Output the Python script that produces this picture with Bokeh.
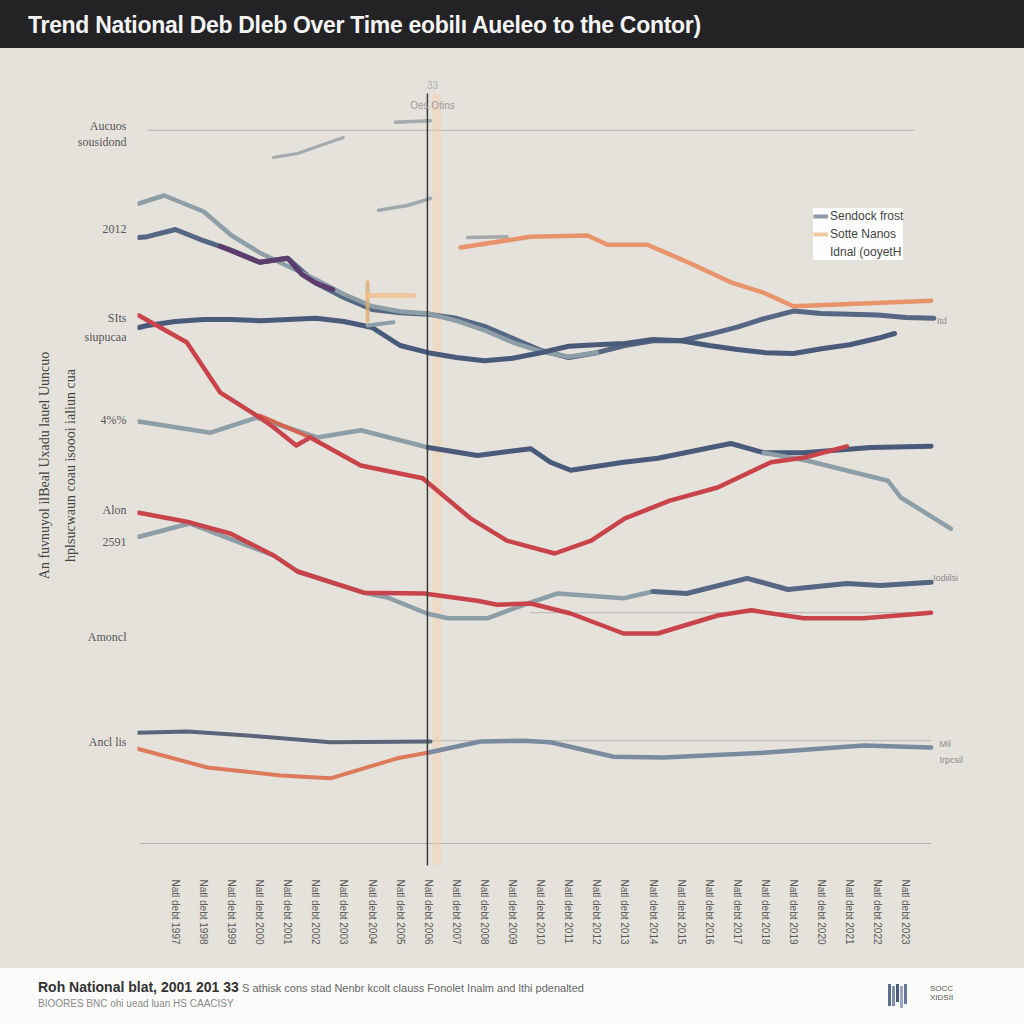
from bokeh.plotting import figure
from bokeh.models import (FixedTicker, Div, Legend, LegendItem, Label, Range1d)
from bokeh.layouts import column
from bokeh.embed import file_html
from bokeh.resources import INLINE

# ---------------- data ----------------
TITLE = "Trend National Deb Dleb Over Time eobilı Aueleo to the Contor)"
YEARS = list(range(1997, 2024))
X_TICKS = list(range(len(YEARS)))
X_LABELS = [f"Natl debt {y}" for y in YEARS]

Y_TICKS = [92.5, 90.4, 79.6, 68.4, 66.1, 55.75, 44.4, 40.5, 28.6, 15.5]
Y_LABELS = ["Aucuos", "sousidond", "2012", "SIts", "siupucaa", "4%%", "Alon", "2591", "Amoncl", "Ancl lis"]
Y_TITLE = "An fuvnuyol ilBeal Uxadu lauel Uuncuo\nhplsucwaun coau isoooi ialiun cua"

NAVY1_X = [-1.3, -1, 0, 1, 2, 3, 4, 5, 6, 7, 8, 9, 10, 11, 12, 13, 14, 15, 16, 17, 18, 19, 20, 21, 22, 23, 24, 25, 26, 27]
NAVY1_Y = [78.5, 78.6, 79.5, 78.1, 76.9, 75.4, 75.9, 72.8, 71.0, 69.5, 69.1, 68.9, 68.4, 67.4, 65.9, 64.4, 63.5, 64.1, 65.0, 65.6, 65.6, 66.4, 67.3, 68.4, 69.3, 69.0, 68.9, 68.8, 68.5, 68.4]

GRAY1_X = [-1.3, -0.4, 1, 2, 3, 4, 5, 6, 7, 8, 9, 10, 11, 12, 13, 14, 15]
GRAY1_Y = [82.75, 83.75, 81.75, 78.75, 76.6, 74.9, 73.25, 71.4, 69.9, 69.25, 69.0, 68.1, 66.9, 65.4, 64.25, 63.6, 64.1]

PURPLE_X = [1.6, 3.0, 4.0, 4.5, 5.0, 5.6]
PURPLE_Y = [77.4, 75.4, 75.9, 73.9, 72.8, 72.0]

NAVY2_X = [-1.3, -1, 0, 1, 2, 3, 4, 5, 6, 7, 8, 9, 10, 11, 12, 13, 14, 15, 16, 17, 18, 19, 20, 21, 22, 23, 24, 25, 25.6]
NAVY2_Y = [67.25, 67.5, 68.0, 68.25, 68.25, 68.1, 68.25, 68.4, 68.0, 67.25, 65.0, 64.1, 63.5, 63.1, 63.4, 64.1, 64.9, 65.1, 65.25, 65.75, 65.6, 65.0, 64.5, 64.1, 64.0, 64.6, 65.1, 65.9, 66.5]

RED1_X = [-1.3, 0.4, 1.6, 3.0, 3.5, 4.3, 4.8, 6.6, 8.8, 10.5, 11.8, 13.5, 14.8, 16.0, 17.6, 19.3, 21.2, 22.4, 23.9]
RED1_Y = [68.75, 65.4, 59.1, 56.0, 54.75, 52.5, 53.5, 50.0, 48.4, 43.4, 40.6, 39.0, 40.6, 43.4, 45.6, 47.25, 50.4, 51.0, 52.4]
RED1B_X = [3.0, 4.8]
RED1B_Y = [56.25, 53.5]

GRAY2_X = [-1.3, 1.25, 2.9, 5.05, 6.6, 9.0]
GRAY2_Y = [55.5, 54.1, 56.0, 53.5, 54.4, 52.25]

NAVY3_X = [9.0, 10.75, 12.65, 13.35, 14.07, 15.95, 17.17, 19.77, 20.94, 22.36, 24.75, 26.9]
NAVY3_Y = [52.25, 51.25, 52.1, 50.4, 49.4, 50.4, 50.9, 52.75, 51.6, 51.6, 52.25, 52.4]

GRAY3_X = [20.94, 22.5, 25.36, 25.82, 27.6]
GRAY3_Y = [51.6, 50.6, 48.1, 46.0, 42.1]

RED2_X = [-1.3, 0.5, 1.95, 3.5, 4.35, 6.7, 8.85, 10.75, 11.45, 12.65, 14.07, 15.95, 17.17, 19.3, 20.5, 22.36, 24.5, 26.9]
RED2_Y = [44.1, 42.9, 41.5, 38.75, 36.75, 34.1, 34.0, 33.1, 32.6, 32.75, 31.5, 29.0, 29.0, 31.25, 31.9, 30.9, 30.9, 31.6]

GRAY4_X = [-1.3, 0.5, 3.5, 4.35, 6.7, 7.55, 8.95, 9.7, 11.1, 12.65, 13.6, 15.95, 17.0]
GRAY4_Y = [41.1, 42.75, 38.75, 36.75, 34.1, 33.5, 31.5, 30.9, 30.9, 32.9, 34.0, 33.4, 34.25]

NAVY4_X = [17.0, 18.2, 20.35, 21.8, 23.9, 25.1, 26.9]
NAVY4_Y = [34.25, 34.0, 35.9, 34.5, 35.25, 35.0, 35.4]

NAVY5_X = [-1.35, 0.43, 2.56, 5.52, 9.08]
NAVY5_Y = [16.6, 16.75, 16.25, 15.4, 15.5]

ORANGE_LOW_X = [-1.35, 1.14, 3.74, 5.52, 7.9, 8.97]
ORANGE_LOW_Y = [14.6, 12.25, 11.25, 10.9, 13.4, 14.1]

SLATE_LOW_X = [8.97, 10.86, 12.39, 13.35, 15.6, 17.38, 20.94, 24.5, 26.9]
SLATE_LOW_Y = [14.1, 15.5, 15.6, 15.4, 13.6, 13.5, 14.1, 15.0, 14.75]

ORANGE_TOP_X = [10.15, 12.64, 14.67, 15.38, 16.8, 18.34, 19.77, 20.94, 22.0, 26.9]
ORANGE_TOP_Y = [77.25, 78.6, 78.75, 77.6, 77.6, 75.25, 72.9, 71.6, 69.9, 70.6]

GRAY_SHORT_X = [10.4, 11.8]
GRAY_SHORT_Y = [78.5, 78.6]

TOP_A_X = [3.49, 4.34, 5.98]
TOP_A_Y = [88.5, 89.0, 91.0]
TOP_B_X = [7.23, 8.26, 9.08]
TOP_B_Y = [81.9, 82.5, 83.4]
TOP_C_X = [7.83, 9.08]
TOP_C_Y = [92.9, 93.1]

MARK_V_X = [6.84, 6.84]
MARK_V_Y = [72.9, 68.1]
MARK_H_X = [6.84, 8.48]
MARK_H_Y = [71.25, 71.25]
MARK_G_X = [6.84, 7.76]
MARK_G_Y = [67.5, 67.9]

REF_Y = [91.9, 31.6, 15.6, 2.75]
REF_X0 = [-1.0, 12.64, 9.08, -1.25]
REF_X1 = [26.3, 26.9, 26.9, 26.9]

EVENT_X = 8.97
BAND_X = (9.15, 9.47)

LEGEND_LABELS = ["Sendock frost", "Sotte Nanos", "Idnal (ooyetH"]

# ---------------- styles ----------------
BG = "#e5e2dc"
NAVY = "#4a5a7a"
GRAY = "#8d9ea6"
RED = "#c9444a"
FONT = "Liberation Sans"

p = figure(width=1024, height=920, output_backend="svg", toolbar_location=None,
           x_range=Range1d(-1.35, 28.8), y_range=Range1d(0, 100),
           min_border_left=137, min_border_right=40, min_border_top=17, min_border_bottom=103,
           background_fill_color=None, border_fill_color=None, outline_line_color=None,
           styles={"background-color": BG})
p.title = None
p.xgrid.visible = False
p.ygrid.visible = False

for ax in (p.xaxis[0], p.yaxis[0]):
    ax.axis_line_color = None
    ax.major_tick_line_color = None
    ax.minor_tick_line_color = None

p.xaxis.ticker = FixedTicker(ticks=X_TICKS)
p.xaxis.major_label_overrides = {t: l for t, l in zip(X_TICKS, X_LABELS)}
p.xaxis.major_label_orientation = "vertical"
p.xaxis.major_label_text_font = FONT
p.xaxis.major_label_text_font_size = "10px"
p.xaxis.major_label_text_color = "#5a5a5a"
p.xaxis.major_label_standoff = 8

p.yaxis.ticker = FixedTicker(ticks=Y_TICKS)
p.yaxis.major_label_overrides = {t: l for t, l in zip(Y_TICKS, Y_LABELS)}
p.yaxis.major_label_text_font = "Liberation Serif"
p.yaxis.major_label_text_font_size = "12px"
p.yaxis.major_label_text_color = "#555555"
p.yaxis.major_label_standoff = 5
p.yaxis.axis_label = Y_TITLE
p.yaxis.axis_label_text_font = "Liberation Serif"
p.yaxis.axis_label_text_font_size = "14px"
p.yaxis.axis_label_text_line_height = 1.7
p.yaxis.axis_label_text_font_style = "normal"
p.yaxis.axis_label_text_color = "#444444"
p.yaxis.axis_label_standoff = -3

# reference lines
p.segment(x0=REF_X0, y0=REF_Y, x1=REF_X1, y1=REF_Y, line_color="#b8b5b0", line_width=1)

# highlight band
p.quad(left=[BAND_X[0]], right=[BAND_X[1]], bottom=[0], top=[96.5],
       fill_color="#f7cfa8", fill_alpha=0.45, line_color=None)

def ln(x, y, color, w=4.5, alpha=1.0):
    return p.line(x, y, line_color=color, line_width=w, line_alpha=alpha,
                  line_cap="round", line_join="round")

ln(TOP_A_X, TOP_A_Y, "#a4abae", 3)
ln(TOP_B_X, TOP_B_Y, "#9ea8ad", 3.5)
ln(TOP_C_X, TOP_C_Y, "#a4abae", 3.5)
ln(GRAY_SHORT_X, GRAY_SHORT_Y, "#a3a9ab", 3.5)
ln(ORANGE_TOP_X, ORANGE_TOP_Y, "#e8936a", 4.5)

ln(NAVY1_X, NAVY1_Y, "#556783", 5)
ln(GRAY1_X, GRAY1_Y, GRAY, 4.5)
ln(PURPLE_X, PURPLE_Y, "#5c3c6c", 5)
ln(NAVY2_X, NAVY2_Y, NAVY, 5)

ln(MARK_G_X, MARK_G_Y, "#8d9ea6", 4)
ln(MARK_V_X, MARK_V_Y, "#e0ad72", 4, 0.8)
ln(MARK_H_X, MARK_H_Y, "#f2c08c", 5, 0.8)

ln(GRAY2_X, GRAY2_Y, GRAY, 4.5)
ln(NAVY3_X, NAVY3_Y, NAVY, 5)
ln(GRAY3_X, GRAY3_Y, GRAY, 4.5)
ln(RED1B_X, RED1B_Y, "#d4624c", 4)
ln(RED1_X, RED1_Y, RED, 4.5)

ln(GRAY4_X, GRAY4_Y, GRAY, 4.5)
ln(NAVY4_X, NAVY4_Y, "#566783", 5)
ln(RED2_X, RED2_Y, RED, 4.5)

ln(NAVY5_X, NAVY5_Y, "#5b6479", 4)
ln(SLATE_LOW_X, SLATE_LOW_Y, "#7a8ba0", 4.5)
ln(ORANGE_LOW_X, ORANGE_LOW_Y, "#dd7a5c", 4)

p.segment(x0=[EVENT_X], y0=[-1], x1=[EVENT_X], y1=[96.5], line_color="#3c3c3c", line_width=1.5)

# small annotation texts
for x, y, t, size, col, align in [(9.15, 95.0, "Oes Otins", "10px", "#9a9a9a", "center"),
                                  (9.15, 97.6, "33", "10px", "#b0b0b0", "center"),
                                  (27.1, 68.1, "Itd", "9px", "#8a8a8a", "left"),
                                  (26.97, 35.9, "Iodiilsi", "9px", "#8a8a8a", "left"),
                                  (27.2, 15.2, "Mil", "9px", "#8a8a8a", "left"),
                                  (27.2, 13.2, "Irpcsil", "9px", "#8a8a8a", "left")]:
    p.add_layout(Label(x=x, y=y, text=t, text_font=FONT, text_font_size=size,
                       text_color=col, text_align=align, text_baseline="middle"))

# legend (swatch renderers sit outside the visible range)
r1 = p.line([-10, -9], [-10, -10], line_color="#8f98a8", line_width=4)
r2 = p.line([-10, -9], [-10, -10], line_color="#f0c8a0", line_width=4)
r3 = p.line([-10, -9], [-10, -10], line_color="#ffffff", line_width=4, line_alpha=0)
legend = Legend(items=[LegendItem(label=LEGEND_LABELS[0], renderers=[r1]),
                       LegendItem(label=LEGEND_LABELS[1], renderers=[r2]),
                       LegendItem(label=LEGEND_LABELS[2], renderers=[r3])],
                location=(676, 605), background_fill_color="#ffffff", background_fill_alpha=0.92,
                border_line_color=None, label_text_font=FONT, label_text_font_size="12px",
                label_text_color="#444444", glyph_width=15, glyph_height=14, label_height=16,
                spacing=2, padding=9, label_standoff=2, margin=0)
p.add_layout(legend)

title = Div(text=f'<div style="width:1024px;height:48px;background:#232224;color:#f4f4f4;'
                 f'font-family:\'Liberation Sans Narrow\',\'Liberation Sans\',sans-serif;font-weight:bold;'
                 f'font-size:23px;line-height:50px;padding-left:28px;box-sizing:border-box;'
                 f'letter-spacing:-0.3px;white-space:nowrap;">{TITLE}</div>',
            width=1024, height=48, margin=0)

bars = "".join(
    f'<div style="position:absolute;left:{i*4}px;top:{2 + (i % 2) * 2}px;width:3px;height:{22 - (i % 3) * 2}px;'
    f'background:{c};"></div>'
    for i, c in enumerate(["#5b6d8c", "#7d8ea8", "#4a5a7a", "#9aa7bb", "#66789a"]))
footer = Div(text=(
    '<div style="width:1024px;height:56px;background:#fbfbfa;position:relative;'
    'font-family:\'Liberation Sans Narrow\',\'Liberation Sans\',sans-serif;">'
    '<div style="position:absolute;left:38px;top:9px;white-space:nowrap;color:#333;">'
    '<span style="font-size:14px;font-weight:bold;">Roh National blat, 2001 201 33</span> '
    '<span style="font-size:11px;color:#666;">S athisk cons stad Nenbr kcolt clauss Fonolet Inalm and lthi pdenalted</span></div>'
    '<div style="position:absolute;left:38px;top:29px;font-size:10px;color:#8a8a8a;white-space:nowrap;">'
    'BIOORES BNC ohi uead luan HS CAACISY</div>'
    f'<div style="position:absolute;left:888px;top:14px;width:24px;height:28px;">{bars}</div>'
    '<div style="position:absolute;left:930px;top:16px;font-size:8px;line-height:9px;color:#555;">SOCC<br>XIDSII</div>'
    '</div>'), width=1024, height=56, margin=0)

layout = column(title, p, footer, spacing=0)
open("out.html", "w").write(file_html(layout, INLINE))
